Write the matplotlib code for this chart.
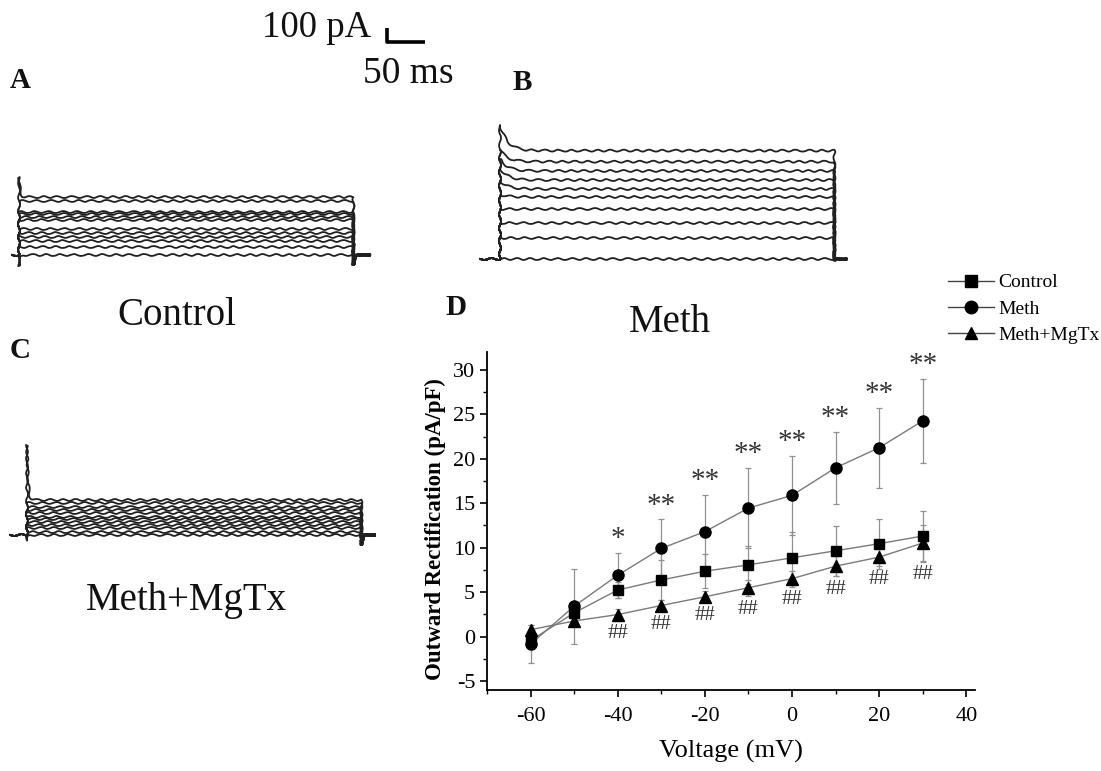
import numpy as np
import matplotlib
matplotlib.use("Agg")
import matplotlib.pyplot as plt
from matplotlib.ticker import MultipleLocator
from matplotlib.lines import Line2D

plt.rcParams['font.family'] = ['Liberation Serif', 'DejaVu Serif']
plt.rcParams['axes.unicode_minus'] = False

W, H = 1101, 771

# ---- I-V data (panel D) ----
voltage = [-60, -50, -40, -30, -20, -10, 0, 10, 20, 30]
control = [-0.43, 2.67, 5.24, 6.37, 7.35, 8.07, 8.86, 9.65, 10.45, 11.31]
control_err = [1.0, 1.0, 0.9, 2.3, 1.9, 2.1, 2.9, 2.8, 2.8, 2.87]
meth = [-0.84, 3.42, 6.9, 9.92, 11.8, 14.45, 15.88, 18.98, 21.24, 24.26]
meth_err = [2.1, 4.2, 2.55, 3.25, 4.1, 4.5, 4.4, 4.07, 4.5, 4.7]
mgtx = [0.78, 1.76, 2.48, 3.5, 4.48, 5.5, 6.52, 7.92, 8.94, 10.52]
mgtx_err = [0.5, 0.5, 0.6, 0.6, 0.6, 0.9, 0.9, 1.1, 1.0, 2.0]
meth_sig = ['', '', '*', '**', '**', '**', '**', '**', '**', '**']
mgtx_sig = ['', '', '##', '##', '##', '##', '##', '##', '##', '##']

# ---- current traces (steady-state level and onset peak, pA) ----
PULSE_MS = 440
a_levels = [0, 57, 100, 129, 157, 186, 250, 271, 293, 307, 386, 414]
a_peaks = [-80, 57, 100, 129, 157, 186, 250, 271, 293, 307, 386, 557]
b_levels = [0, 150, 257, 357, 443, 500, 564, 629, 695, 774]
b_peaks = [0, 150, 257, 357, 460, 560, 650, 715, 780, 957]
c_levels = [0, 21, 50, 71, 93, 114, 129, 157, 179, 200, 229, 250]
c_peaks = [-40, 21, 50, 71, 93, 114, 129, 157, 179, 200, 229, 643]

PX_PER_MS = 0.76
PX_PER_PA = 0.14

fig = plt.figure(figsize=(W / 100, H / 100), dpi=100)


def fpos(x, y):
    return x / W, 1 - y / H


def trace_axes(x_on, y_base, box):
    x0, y0, x1, y1 = box
    ax = fig.add_axes([x0 / W, 1 - y1 / H, (x1 - x0) / W, (y1 - y0) / H])
    ax.set_xlim((x0 - x_on) / PX_PER_MS, (x1 - x_on) / PX_PER_MS)
    ax.set_ylim((y_base - y1) / PX_PER_PA, (y_base - y0) / PX_PER_PA)
    ax.axis('off')
    return ax


def draw_traces(ax, levels, peaks, tau, tail, t_pre, t_post):
    t_hold = np.linspace(0, PULSE_MS, 500)
    for lev, pk in zip(levels, peaks):
        hold = lev + (pk - lev) * np.exp(-t_hold / tau)
        t = np.concatenate([[t_pre, 0], t_hold, [PULSE_MS, PULSE_MS + 3, t_post]])
        i = np.concatenate([[0, 0], hold, [tail, 0, 0]])
        ln, = ax.plot(t, i, color='#202020', lw=1.3)
        ln.set_sketch_params(0.95, 14, 1.5)


ax_a = trace_axes(19, 255, (0, 150, 380, 280))
draw_traces(ax_a, a_levels, a_peaks, 1.5, -70, -9, 462)
ax_b = trace_axes(500, 259, (470, 110, 860, 280))
draw_traces(ax_b, b_levels, b_peaks, 10, -10, -26, 456)
ax_c = trace_axes(27, 535, (0, 430, 390, 560))
draw_traces(ax_c, c_levels, c_peaks, 1.5, -70, -22, 458)

# scale bar: 100 pA / 50 ms
ax_s = trace_axes(387, 42, (370, 15, 440, 55))
ax_s.plot([0, 0, 50], [100, 0, 0], color='black', lw=2.6, solid_capstyle='butt')

txt = dict(color='#111111')
fig.text(*fpos(262, 37), '100 pA', fontsize=26.5, ha='left', va='baseline', **txt)
fig.text(*fpos(363, 83), '50 ms', fontsize=27, ha='left', va='baseline', **txt)
for lab, x, y in [('A', 10, 88), ('B', 513, 90), ('C', 10, 358), ('D', 445, 315)]:
    fig.text(*fpos(x, y), lab, fontsize=21, fontweight='bold', ha='left', va='baseline', **txt)
fig.text(*fpos(177, 325), 'Control', fontsize=28, ha='center', va='baseline', **txt)
fig.text(*fpos(670, 332), 'Meth', fontsize=28, ha='center', va='baseline', **txt)
fig.text(*fpos(186, 610), 'Meth+MgTx', fontsize=28, ha='center', va='baseline', **txt)

# ---- panel D ----
ax = fig.add_axes([487 / W, 1 - 690 / H, 488 / W, 338 / H])
series = [(control, control_err, 's', 'Control', 7),
          (meth, meth_err, 'o', 'Meth', 8),
          (mgtx, mgtx_err, '^', 'Meth+MgTx', 8)]
for vals, err, mk, lab, ms in series:
    ax.errorbar(voltage, vals, yerr=err, fmt='none', ecolor='#909090', elinewidth=0.9,
                capsize=2.5, capthick=0.9, zorder=1)
    ax.plot(voltage, vals, color='#7a7a7a', lw=1.0, zorder=2)
    ax.plot(voltage, vals, ls='none', marker=mk, ms=ms, color='black', zorder=3, label=lab)

for v, y, e, s in zip(voltage, meth, meth_err, meth_sig):
    if s:
        ax.text(v, y + e + 0.1, s, fontsize=21, ha='center', va='bottom', color='#333333')
for v, y, e, s in zip(voltage, mgtx, mgtx_err, mgtx_sig):
    if s:
        ax.text(v, y - e - 1.5, s, fontsize=15, ha='center', va='center', color='#333333')

ax.set_xlim(-70, 42)
ax.set_ylim(-6, 32)
ax.xaxis.set_major_locator(MultipleLocator(20))
ax.xaxis.set_minor_locator(MultipleLocator(10))
ax.yaxis.set_major_locator(MultipleLocator(5))
ax.yaxis.set_minor_locator(MultipleLocator(2.5))
ax.spines['top'].set_visible(False)
ax.spines['right'].set_visible(False)
for sp in ('left', 'bottom'):
    ax.spines[sp].set_linewidth(1.3)
ax.tick_params(which='major', direction='out', length=5, width=1.2, labelsize=16)
ax.tick_params(axis='x', which='major', pad=7)
ax.tick_params(which='minor', direction='out', length=3, width=1.0)
ax.set_xlabel('Voltage (mV)', fontsize=19, labelpad=10)
ax.set_ylabel('Outward Rectification (pA/pF)', fontsize=16.5, fontweight='bold')
ax.yaxis.set_label_coords(-0.083, 0.475)

handles, labels = ax.get_legend_handles_labels()
leg_handles = [Line2D([], [], color='#444444', lw=1.0, marker=h.get_marker(), ms=9,
                      markerfacecolor='black', markeredgecolor='black') for h in handles]
fig.legend(leg_handles, labels, loc='upper left', bbox_to_anchor=fpos(940, 266),
           frameon=False, fontsize=14, handlelength=2.4, handletextpad=0.2,
           labelspacing=0.45, borderaxespad=0)

fig.savefig('out.png', dpi=100)
